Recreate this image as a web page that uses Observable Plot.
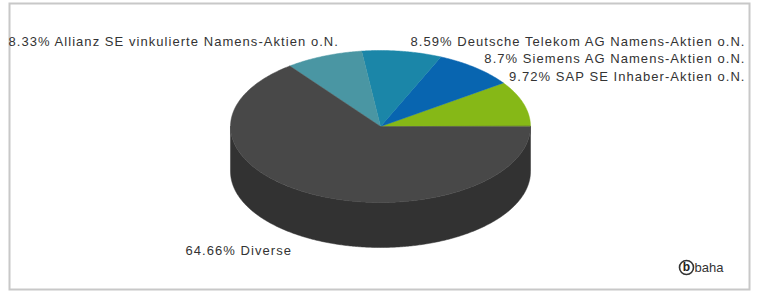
<!DOCTYPE html>
<html><head><meta charset="utf-8">
<script src="https://cdn.jsdelivr.net/npm/d3@7"></script>
<script src="https://cdn.jsdelivr.net/npm/@observablehq/plot@0.6"></script>
<style>
body{margin:0;background:#fff;}
#chart{width:757px;height:291px;}
svg text{font-family:Arial,"Liberation Sans",sans-serif;}
</style>
</head><body><div id="chart"></div>
<script>
// ---- data ----
const names = ["SAP SE Inhaber-Aktien o.N.", "Siemens AG Namens-Aktien o.N.", "Deutsche Telekom AG Namens-Aktien o.N.", "Allianz SE vinkulierte Namens-Aktien o.N.", "Diverse"];
const shares = [9.72, 8.7, 8.59, 8.33, 64.66];
const topColors = ["#86b817", "#0865b0", "#1b86a8", "#4a96a3", "#484848"];
const sideColors = ["#6a9212", "#054f8a", "#156a85", "#3a7781", "#323232"];

// ---- layout (not data) ----
const W = 757, H = 291;
const geo = {cx: 380, cy: 126, rx: 150, ry: 76, depth: 45};
const labelLayout = [
  {x: 745, y: 76, anchor: "end"},
  {x: 745, y: 58, anchor: "end"},
  {x: 745, y: 41, anchor: "end"},
  {x: 8, y: 41, anchor: "start"},
  {x: 185, y: 250, anchor: "start"}
];

// ---- build slice geometry from the shares ----
const total = d3.sum(shares);
let acc = 0;
const slices = shares.map((v, i) => {
  const a0 = acc / total * 2 * Math.PI;
  acc += v;
  const a1 = acc / total * 2 * Math.PI;
  return {i, name: names[i], value: v, a0, a1};
});
const px = a => geo.cx + geo.rx * Math.cos(a);
const py = a => geo.cy - geo.ry * Math.sin(a);

const topPts = [];
for (const s of slices) {
  topPts.push({k: s.i, x: geo.cx, y: geo.cy});
  const n = Math.max(4, Math.ceil((s.a1 - s.a0) / 0.01));
  for (let j = 0; j <= n; j++) {
    const a = s.a0 + (s.a1 - s.a0) * j / n;
    topPts.push({k: s.i, x: px(a), y: py(a)});
  }
}
// visible side wall: front half (angles PI..2PI)
const sidePts = [];
for (const s of slices) {
  const b0 = Math.max(s.a0, Math.PI), b1 = Math.min(s.a1, 2 * Math.PI);
  if (b1 <= b0) continue;
  const n = Math.max(4, Math.ceil((b1 - b0) / 0.01));
  for (let j = 0; j <= n; j++) { const a = b0 + (b1 - b0) * j / n; sidePts.push({k: s.i, x: px(a), y: py(a)}); }
  for (let j = n; j >= 0; j--) { const a = b0 + (b1 - b0) * j / n; sidePts.push({k: s.i, x: px(a), y: py(a) + geo.depth}); }
}

const labels = slices.map(s => ({
  text: `${s.value}% ${s.name}`,
  ...labelLayout[s.i]
}));

const marks = [
  Plot.frame({stroke: "#c8c8c8", strokeWidth: 2, insetLeft: 9, insetTop: 3, insetRight: 8, insetBottom: 2})
];
for (const s of slices) {
  const sp = sidePts.filter(d => d.k === s.i);
  if (sp.length) marks.push(Plot.line(sp, {x: "x", y: "y", fill: sideColors[s.i], stroke: sideColors[s.i], strokeWidth: 0.5, curve: "linear-closed"}));
}
for (const s of slices) {
  marks.push(Plot.line(topPts.filter(d => d.k === s.i), {x: "x", y: "y", fill: topColors[s.i], stroke: topColors[s.i], strokeWidth: 0.5, curve: "linear-closed"}));
}
for (const anchor of ["start", "end"]) {
  marks.push(Plot.text(labels.filter(d => d.anchor === anchor), {x: "x", y: "y", text: "text", textAnchor: anchor, fill: "#333", fontSize: 13}));
}
// baha logo
marks.push(Plot.dot([{x: 686, y: 267}], {x: "x", y: "y", r: 7, stroke: "#333", strokeWidth: 1.6, fill: "#fff"}));
marks.push(Plot.text([{x: 686, y: 267, t: "b"}], {x: "x", y: "y", text: "t", fill: "#222", fontSize: 12, fontWeight: "bold"}));
marks.push(Plot.text([{x: 694, y: 267, t: "baha"}], {x: "x", y: "y", text: "t", textAnchor: "start", fill: "#333", fontSize: 13}));

const chart = Plot.plot({
  width: W, height: H,
  margin: 0,
  x: {domain: [0, W], range: [0, W], axis: null},
  y: {domain: [0, H], range: [0, H], axis: null},
  marks
});
// widen the label glyph spacing like the original renderer
for (const t of chart.querySelectorAll("text")) {
  if (t.textContent.includes("%")) t.style.letterSpacing = "1.05px";
}
document.getElementById("chart").append(chart);
</script>
</body></html>
